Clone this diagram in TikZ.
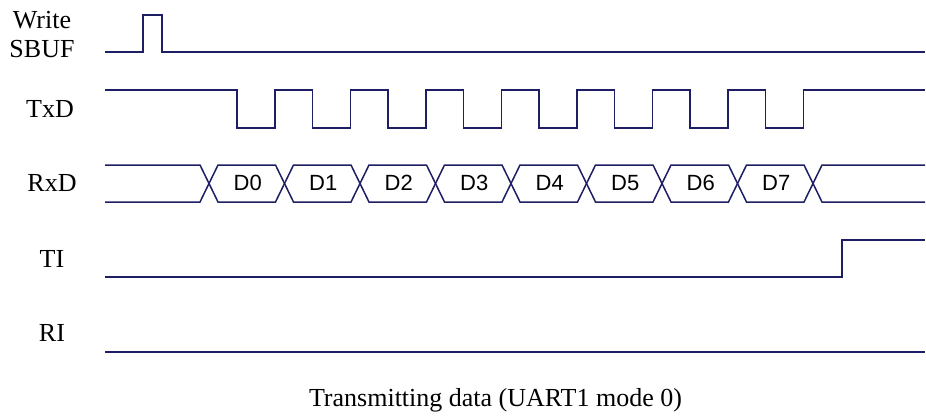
\documentclass[tikz,border=0pt]{standalone}
\usepackage{fontspec}
\setmainfont{Liberation Serif}
\newfontfamily\datafont{Liberation Sans}
\definecolor{wavecol}{RGB}{30,30,100}
\begin{document}
\begin{tikzpicture}[x=0.5pt,y=-0.5pt,
  wave/.style={draw=wavecol, line width=0.75pt, line join=miter},
  lbl/.style={font=\fontsize{13}{14.5}\selectfont, align=center, inner sep=0pt},
  bit/.style={font=\datafont\fontsize{11}{12}\selectfont, inner sep=0pt,
    text height=1.45ex, text depth=0pt}]
  \useasboundingbox (0,0) rectangle (926,418);
  % signal names
  \node[lbl] (wr) at (42,35) {Write\\SBUF};
  \node[lbl] (txd) at (50,109) {TxD};
  \node[lbl] (rxd) at (52,183.5) {RxD};
  \node[lbl] (ti) at (52,258.5) {TI};
  \node[lbl] (ri) at (52,333) {RI};
  % write pulse
  \draw[wave] (105,52) -- (143,52) -- (143,15) -- (162,15) -- (162,52) -- (925,52);
  % shift clock
  \draw[wave] (105,90) foreach \k in {0,...,7} {
    -- ({237+75.5*\k},90) -- ++(0,38) -- ++(38,0) -- ++(0,-38) } -- (925,90);
  % data bits
  \draw[wave] (105,165) -- (200,165) -- (209,183.5) -- (200,202) -- (105,202);
  \foreach \k in {0,...,7} {
    \pgfmathsetmacro{\xa}{209+75.5*\k}
    \pgfmathsetmacro{\xb}{\xa+75.5}
    \draw[wave] (\xa,183.5) -- (\xa+9,165) -- (\xb-9,165) -- (\xb,183.5)
      -- (\xb-9,202) -- (\xa+9,202) -- cycle;
    \node[bit] (d\k) at ({(\xa+\xb)/2+1},183.5) {D\k};
  }
  \draw[wave] (925,165) -- (822,165) -- (813,183.5) -- (822,202) -- (925,202);
  % flags
  \draw[wave] (105,277) -- (842,277) -- (842,240) -- (925,240);
  \draw[wave] (105,352) -- (925,352);
  \node[lbl] (cap) at (495.5,400) {Transmitting data (UART1 mode 0)};
\end{tikzpicture}
\end{document}
